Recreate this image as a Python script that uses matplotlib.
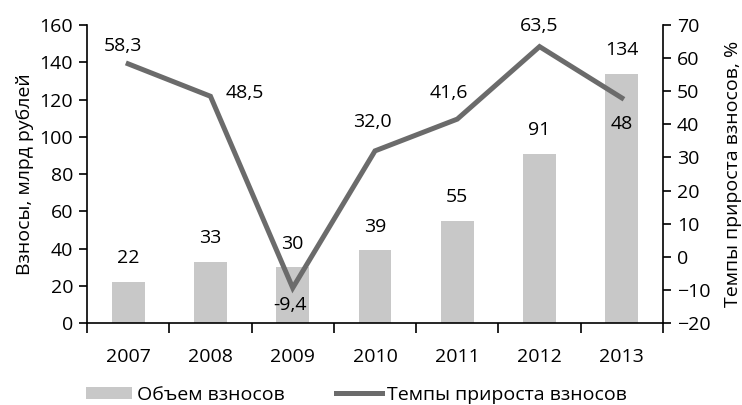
import numpy as np
import matplotlib
matplotlib.use('Agg')
import matplotlib.pyplot as plt
from matplotlib.patches import Patch
from matplotlib.lines import Line2D

plt.rcParams['font.family'] = ['Open Sans', 'DejaVu Sans']
plt.rcParams['font.size'] = 14

years = ['2007', '2008', '2009', '2010', '2011', '2012', '2013']
volume = [22, 33, 30, 39, 55, 91, 134]           # млрд рублей
growth = [58.3, 48.5, -9.4, 32.0, 41.6, 63.5, 48]  # %
growth_labels = ['58,3', '48,5', '-9,4', '32,0', '41,6', '63,5', '48']
# смещения подписей линии (в пунктах)
growth_offsets = [(-4, 13), (25, 2), (-2, -12), (-2, 21), (-6, 19), (0, 15), (0, -19)]

bar_color = '#c8c8c8'
line_color = '#6b6b6b'

fig = plt.figure(figsize=(7.42, 4.05), dpi=100)
ax = fig.add_axes([0.1173, 0.2025, 0.7762, 0.7355])
ax2 = ax.twinx()

x = np.arange(len(years))
ax.bar(x, volume, width=0.4, color=bar_color, zorder=1)
for xi, v in zip(x, volume):
    ax.annotate(str(v), (xi, v), xytext=(0, 17), textcoords='offset points',
                ha='center', va='center')

ax2.plot(x, growth, color=line_color, lw=3.6, solid_joinstyle='miter', zorder=3)
for xi, g, lab, off in zip(x, growth, growth_labels, growth_offsets):
    ax2.annotate(lab, (xi, g), xytext=off, textcoords='offset points',
                 ha='center', va='center')

ax.set_xlim(-0.5, len(years) - 0.5)
ax.set_ylim(0, 160)
ax.set_yticks(np.arange(0, 161, 20))
ax2.set_ylim(-20, 70)
ax2.set_yticks(np.arange(-20, 71, 10))

ax.set_xticks(x)
ax.set_xticklabels(years)
ax.set_xticks(np.arange(-0.5, len(years)), minor=True)
ax.tick_params(axis='x', which='major', length=0, pad=18)
ax.tick_params(axis='x', which='minor', length=7, width=1.2, direction='out')
ax.tick_params(axis='y', length=6, width=1.2, direction='out', pad=4)
ax2.tick_params(axis='y', length=6, width=1.2, direction='out', pad=4)

for a in (ax, ax2):
    a.spines['top'].set_visible(False)
    for s in ('left', 'right', 'bottom'):
        a.spines[s].set_linewidth(1.2)
ax2.spines['left'].set_visible(False)
ax2.spines['bottom'].set_visible(False)
ax.spines['right'].set_visible(False)

ax.set_ylabel('Взносы, млрд рублей', labelpad=4)
ax2.set_ylabel('Темпы прироста взносов, %', rotation=90, labelpad=10)

handles = [Patch(facecolor=bar_color, edgecolor='none'),
           Line2D([0], [0], color=line_color, lw=3.6)]
fig.legend(handles, ['Объем взносов', 'Темпы прироста взносов'],
           loc='lower left', bbox_to_anchor=(0.092, -0.04), ncol=2,
           frameon=False, handlelength=2.4, handleheight=0.6, handletextpad=0.25,
           columnspacing=2.6)

fig.savefig('out.png', dpi=100)
